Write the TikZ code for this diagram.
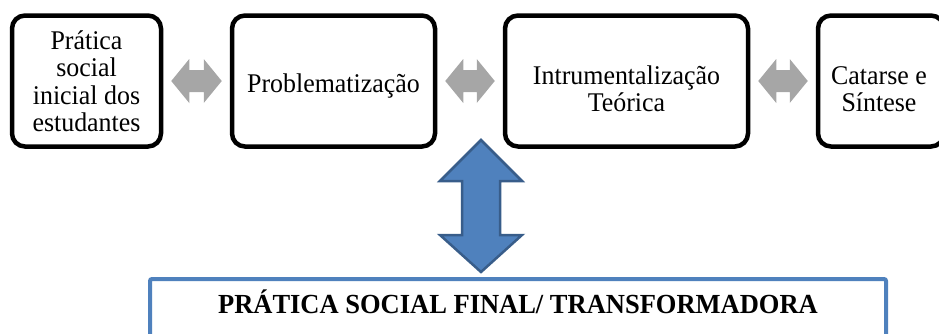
\documentclass[tikz,border=0pt]{standalone}
\usepackage{fontspec}
\setmainfont{Liberation Serif}
\newfontfamily\boxfont{Liberation Serif}[FakeStretch=0.96]
\newfontfamily\finalfont{Liberation Serif}[FakeStretch=0.96]
\usetikzlibrary{calc}
\definecolor{arrgray}{HTML}{A6A6A6}
\definecolor{blfill}{HTML}{4F81BD}
\definecolor{bldraw}{HTML}{385D8A}
\tikzset{
  stepbox/.style={draw=black, line width=4.5pt, rounded corners=13pt, fill=white,
    inner sep=0pt, minimum height=131pt},
  steptext/.style={align=center, inner sep=0pt,
    font=\boxfont\fontsize{27}{27.5}\selectfont},
  grayarr/.style={fill=arrgray},
  bluearr/.style={fill=blfill, draw=bldraw, line width=2.5pt, line join=miter},
  finalbox/.style={draw=blfill, line width=4pt, rounded corners=2pt, fill=white},
  finaltext/.style={font=\finalfont\fontsize{27.6}{30}\selectfont\bfseries, inner sep=0pt}
}
% horizontal double block arrow between two named nodes
\newcommand{\myharrow}[2]{%
  \path let \p1=($(#1.east)+(8,0)$), \p2=($(#2.west)+(-8,0)$) in
    [grayarr] (\x1,\y1) -- (\x1+18,\y1-22) -- (\x1+18,\y1-11) -- (\x2-18,\y1-11)
    -- (\x2-18,\y1-22) -- (\x2,\y1) -- (\x2-18,\y1+22) -- (\x2-18,\y1+11)
    -- (\x1+18,\y1+11) -- (\x1+18,\y1+22) -- cycle;}
\begin{document}
\begin{tikzpicture}[x=1pt,y=-1pt]
\clip (0,0) rectangle (939,333);
\node[stepbox, minimum width=149pt] (b1) at (86.5,81) {};
\node[stepbox, minimum width=203pt] (b2) at (333.5,81) {};
\node[stepbox, minimum width=243pt] (b3) at (626.5,81) {};
\node[stepbox, minimum width=126pt] (b4) at (881,81) {};
\node[steptext] (t1) at ($(b1.center)+(0,0)$) {Prática\\social\\inicial dos\\estudantes};
\node[steptext] (t2) at ($(b2.center)+(0,5)$) {Problematização};
\node[steptext] (t3) at ($(b3.center)+(0,8)$) {Intrumentalização\\Teórica};
\node[steptext] (t4) at ($(b4.center)+(-2,8)$) {Catarse e\\Síntese};
\myharrow{b1}{b2}
\myharrow{b2}{b3}
\myharrow{b3}{b4}
\node[finalbox, minimum width=736pt, minimum height=100pt, anchor=north] (final) at (518,277) {};
\node[finaltext, anchor=base] (finaltxt) at (518,313) {PRÁTICA SOCIAL FINAL/ TRANSFORMADORA};
\coordinate (vt) at (481,140);
\coordinate (vb) at (481,272);
\path[bluearr] (vt) -- ++(41,41) -- ++(-22,0) -- ++(0,54) -- ++(22,0) -- (vb)
  -- ++(-41,-37) -- ++(22,0) -- ++(0,-54) -- ++(-22,0) -- cycle;
\end{tikzpicture}
\end{document}
